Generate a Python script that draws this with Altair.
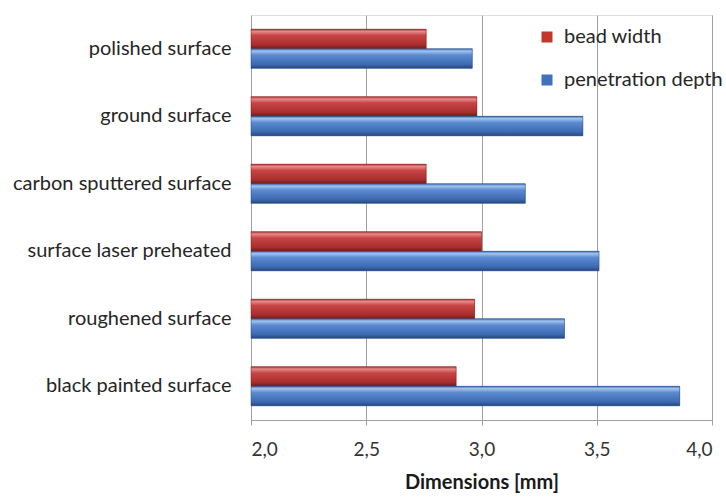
import altair as alt
import pandas as pd

categories = ["polished surface", "ground surface", "carbon sputtered surface",
              "surface laser preheated", "roughened surface", "black painted surface"]
series = ["bead width", "penetration depth"]
bead_width = [2.76, 2.98, 2.76, 3.00, 2.97, 2.89]
penetration_depth = [2.96, 3.44, 3.19, 3.51, 3.36, 3.86]
x_ticks = [2.0, 2.5, 3.0, 3.5, 4.0]

rows = []
for c, b, p in zip(categories, bead_width, penetration_depth):
    rows.append({"category": c, "series": series[0], "value": b})
    rows.append({"category": c, "series": series[1], "value": p})
df = pd.DataFrame(rows)

FONT = "Lato"

red_grad = {"gradient": "linear", "x1": 0, "y1": 0, "x2": 0, "y2": 1,
            "stops": [{"offset": 0, "color": "#b03434"},
                      {"offset": 0.12, "color": "#e48a8a"},
                      {"offset": 0.32, "color": "#c94545"},
                      {"offset": 0.8, "color": "#a82e2e"},
                      {"offset": 1, "color": "#6e1a1a"}]}
blue_grad = {"gradient": "linear", "x1": 0, "y1": 0, "x2": 0, "y2": 1,
             "stops": [{"offset": 0, "color": "#3e6db3"},
                       {"offset": 0.12, "color": "#a2c4ee"},
                       {"offset": 0.32, "color": "#5b8bd2"},
                       {"offset": 0.8, "color": "#3d69b0"},
                       {"offset": 1, "color": "#24477f"}]}

y_enc = alt.Y("category:N", sort=categories,
              scale=alt.Scale(paddingInner=0.42, paddingOuter=0.21),
              axis=alt.Axis(title=None, labelFont=FONT, labelFontSize=20, labelColor="#262626",
                            labelPadding=20, ticks=False, domain=False, labelLimit=300))
yoff_enc = alt.YOffset("series:N", sort=series, scale=alt.Scale(domain=series, paddingInner=0, paddingOuter=0))
x_enc = alt.X("value:Q", scale=alt.Scale(domain=[2.0, 4.0], zero=False, nice=False),
              axis=alt.Axis(values=x_ticks, title="Dimensions [mm]", titleFont=FONT, titleFontSize=20,
                            titleFontWeight="bold", titleColor="#1a1a1a", titlePadding=13,
                            labelFont=FONT, labelFontSize=19, labelColor="#333333", labelPadding=15,
                            labelExpr="replace(format(datum.value, '.1f'), '.', ',')",
                            grid=True, gridColor="#a0a0a0", domainColor="#a0a0a0",
                            tickColor="#a0a0a0", tickSize=5))

base = alt.Chart(df).transform_calculate(base="2.0")

solid = base.mark_bar().encode(
    y=y_enc, yOffset=yoff_enc, x=x_enc, x2="base:Q",
    color=alt.Color("series:N", sort=series,
                    scale=alt.Scale(domain=series, range=["#c0392b", "#3f72bd"]),
                    legend=alt.Legend(title=None, orient="none", legendX=286, legendY=12,
                                      labelFont=FONT, labelFontSize=20, labelColor="#262626",
                                      symbolType="square", symbolSize=121, symbolStrokeWidth=0,
                                      rowPadding=23, labelOffset=7)),
)

red = base.transform_filter(alt.datum.series == series[0]).mark_bar(
    stroke="#7a1e1e", strokeWidth=0.5).encode(
    y=y_enc, yOffset=yoff_enc, x=x_enc, x2="base:Q", fill=alt.value(red_grad))
blue = base.transform_filter(alt.datum.series == series[1]).mark_bar(
    stroke="#2a4a80", strokeWidth=0.5).encode(
    y=y_enc, yOffset=yoff_enc, x=x_enc, x2="base:Q", fill=alt.value(blue_grad))

chart = alt.layer(solid, red, blue).properties(
    width=461, height=405,
    autosize=alt.AutoSizeParams(type="none"),
    padding={"left": 251, "top": 15, "right": 14, "bottom": 80},
).configure_view(stroke=None).configure(background="white")

chart.save("out.html", embed_options={"renderer": "svg", "actions": False})
